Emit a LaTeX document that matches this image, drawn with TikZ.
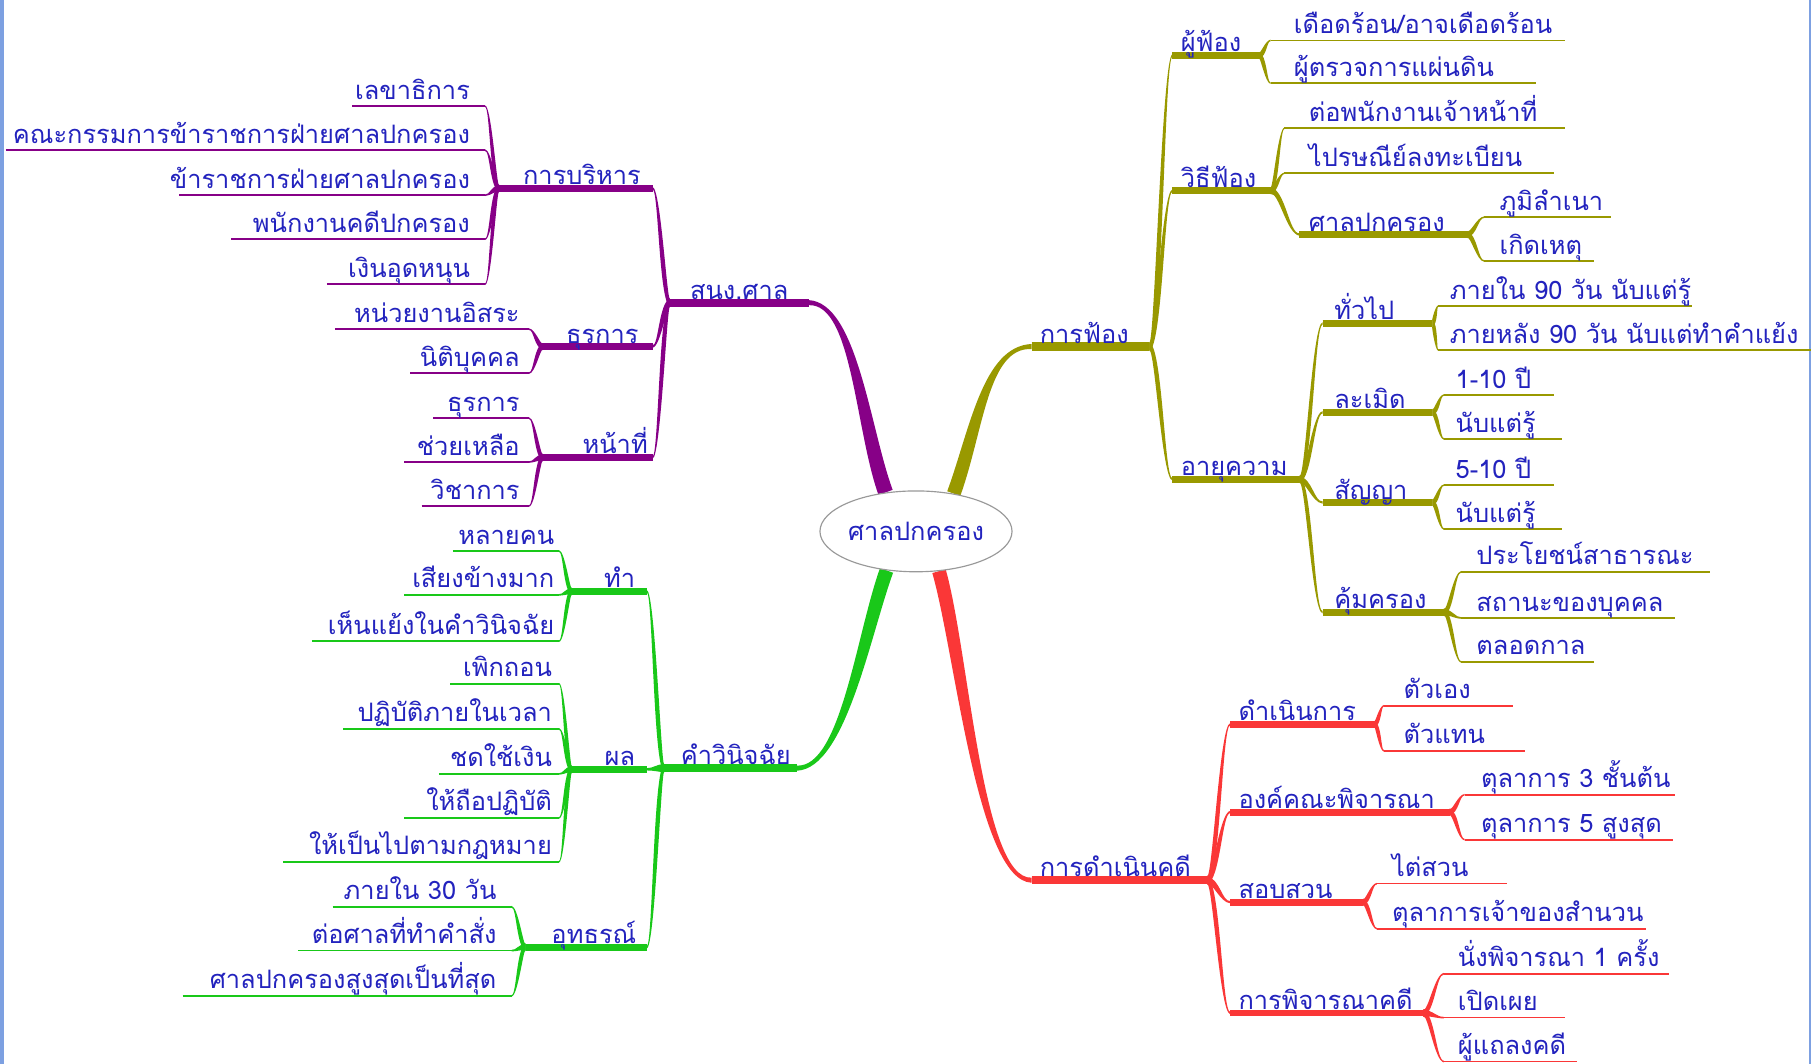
\documentclass[tikz,border=0pt]{standalone}
\usepackage{fontspec}
\newfontfamily\thai[Script=Thai]{Loma}
\usetikzlibrary{calc,shapes.geometric,backgrounds}
\definecolor{cpur}{RGB}{135,0,135}
\definecolor{cgrn}{RGB}{25,200,25}
\definecolor{colv}{RGB}{153,153,0}
\definecolor{cred}{RGB}{250,55,55}
\definecolor{ctxt}{RGB}{35,35,190}
\definecolor{cbord}{RGB}{125,160,225}
\tikzset{
  lab/.style={font=\thai\fontsize{22}{26}\selectfont, text=ctxt, inner sep=0pt},
  bar/.style={line width=6pt},
  leafline/.style={line width=1.4pt},
  rootnode/.style={ellipse, draw=black!40, fill=white, line width=1pt, minimum width=146pt, minimum height=70pt, inner sep=0pt, font=\thai\fontsize{22}{26}\selectfont, text=ctxt}
}
% tapered connector: from, to, a_x, a_y, b_x, b_y (control vectors, canvas), w0, w1, colour
\newcommand\connbase[9]{%
\begin{pgfonlayer}{background}
\fill[#9] let \p1=(#1), \p2=(#2),
 \n{ax}={#3}, \n{ay}={#4}, \n{bx}={#5}, \n{by}={#6},
 \n{la}={max(veclen(\n{ax},\n{ay}),0.001)},
 \n{lb}={max(veclen(\n{bx},\n{by}),0.001)},
 \p3=({\x1+\n{ax}},{\y1+\n{ay}}), \p4=({\x2+\n{bx}},{\y2+\n{by}}),
 \n{lm}={max(veclen(\x4-\x3,\y4-\y3),0.001)},
 \n{mx}={-(\y4-\y3)/\n{lm}}, \n{my}={(\x4-\x3)/\n{lm}}
 in ({\x1+(#7)*(-(\n{ay}))/(\n{la})},{\y1+(#7)*(\n{ax})/(\n{la})})
 .. controls ({\x3+(#7)*(\n{mx})},{\y3+(#7)*(\n{my})}) and ({\x4+(#8)*(\n{mx})},{\y4+(#8)*(\n{my})}) ..
 ({\x2+(#8)*(\n{by})/(\n{lb})},{\y2-(#8)*(\n{bx})/(\n{lb})})
 -- ({\x2-(#8)*(\n{by})/(\n{lb})},{\y2+(#8)*(\n{bx})/(\n{lb})})
 .. controls ({\x4-(#8)*(\n{mx})},{\y4-(#8)*(\n{my})}) and ({\x3-(#7)*(\n{mx})},{\y3-(#7)*(\n{my})}) ..
 ({\x1-(#7)*(-(\n{ay}))/(\n{la})},{\y1-(#7)*(\n{ax})/(\n{la})}) -- cycle;
\end{pgfonlayer}}
\newcommand\conn[5]{\connbase{#1}{#2}{0.4*(\x2-\x1)}{0}{-0.4*(\x2-\x1)}{0}{#3}{#4}{#5}}
% bar topic: name, style, xl, xr, y, anchor, text x, text
\newcommand\btopic[8]{%
 \coordinate (#1-l) at (#3,#5); \coordinate (#1-r) at (#4,#5);
 \draw[bar,#2] (#1-l) -- (#1-r);
 \node[lab, anchor=#6] (#1) at (#7,#5-3) {#8};}
% leaf topic
\newcommand\ltopic[8]{%
 \coordinate (#1-l) at (#3,#5); \coordinate (#1-r) at (#4,#5);
 \draw[leafline,#2] (#1-l) -- (#1-r);
 \node[lab, anchor=#6] (#1) at (#7,#5-6) {#8};}
\begin{document}
\begin{tikzpicture}[x=1pt,y=-1pt]
\begin{pgfonlayer}{background}
\path[use as bounding box, fill=white] (0,0) rectangle (1568,921);
\end{pgfonlayer}
\fill[cbord] (0,0) rectangle (3.5,921);
\fill[cbord] (1566,0) rectangle (1568,921);

% ---------- purple ----------
\btopic{snk}{cpur,line width=7pt}{580}{700}{262}{base}{640}{สนง.ศาล}
\btopic{bor}{cpur}{432}{565}{163}{base east}{555}{การบริหาร}
\btopic{tur}{cpur}{470}{565}{300}{base east}{553}{ธุรการ}
\btopic{nat}{cpur}{470}{565}{396}{base east}{561}{หน้าที่}
\ltopic{p1}{cpur}{305}{420}{92}{base east}{407}{เลขาธิการ}
\ltopic{p2}{cpur}{5}{420}{130}{base east}{407}{คณะกรรมการข้าราชการฝ่ายศาลปกครอง}
\ltopic{p3}{cpur}{155}{420}{169}{base east}{407}{ข้าราชการฝ่ายศาลปกครอง}
\ltopic{p4}{cpur}{200}{420}{207}{base east}{407}{พนักงานคดีปกครอง}
\ltopic{p5}{cpur}{283}{420}{246}{base east}{407}{เงินอุดหนุน}
\ltopic{p6}{cpur}{290}{458}{285}{base east}{450}{หน่วยงานอิสระ}
\ltopic{p7}{cpur}{355}{458}{323}{base east}{450}{นิติบุคคล}
\ltopic{p8}{cpur}{375}{458}{362}{base east}{450}{ธุรการ}
\ltopic{p9}{cpur}{350}{458}{400}{base east}{450}{ช่วยเหลือ}
\ltopic{p10}{cpur}{365}{458}{438}{base east}{450}{วิชาการ}
\conn{snk-l}{bor-r}{3.5}{1}{cpur}
\conn{snk-l}{tur-r}{3.5}{1}{cpur}
\conn{snk-l}{nat-r}{3.5}{1}{cpur}
\foreach \c in {p1,p2,p3,p4,p5}{\conn{bor-l}{\c-r}{3}{0.7}{cpur}}
\foreach \c in {p6,p7}{\conn{tur-l}{\c-r}{3}{0.7}{cpur}}
\foreach \c in {p8,p9,p10}{\conn{nat-l}{\c-r}{3}{0.7}{cpur}}

% ---------- green ----------
\btopic{kwn}{cgrn,line width=7pt}{575}{690}{665}{base}{637}{คำวินิจฉัย}
\btopic{tam}{cgrn}{495}{560}{512}{base east}{550}{ทำ}
\btopic{pon}{cgrn}{495}{560}{666}{base east}{550}{ผล}
\btopic{ut}{cgrn}{455}{560}{820}{base east}{551}{อุทธรณ์}
\ltopic{g1}{cgrn}{392}{484}{477}{base east}{480}{หลายคน}
\ltopic{g2}{cgrn}{350}{484}{515}{base east}{480}{เสียงข้างมาก}
\ltopic{g3}{cgrn}{270}{484}{555}{base east}{480}{เห็นแย้งในคำวินิจฉัย}
\ltopic{g4}{cgrn}{390}{484}{592}{base east}{478}{เพิกถอน}
\ltopic{g5}{cgrn}{297}{484}{631}{base east}{478}{ปฏิบัติภายในเวลา}
\ltopic{g6}{cgrn}{380}{484}{670}{base east}{478}{ชดใช้เงิน}
\ltopic{g7}{cgrn}{350}{484}{708}{base east}{478}{ให้ถือปฏิบัติ}
\ltopic{g8}{cgrn}{245}{484}{746}{base east}{478}{ให้เป็นไปตามกฎหมาย}
\ltopic{g9}{cgrn}{288}{443}{785}{base east}{430}{ภายใน 30 วัน}
\ltopic{g10}{cgrn}{258}{443}{823}{base east}{430}{ต่อศาลที่ทำคำสั่ง}
\ltopic{g11}{cgrn}{158}{443}{862}{base east}{430}{ศาลปกครองสูงสุดเป็นที่สุด}
\conn{kwn-l}{tam-r}{3.5}{1}{cgrn}
\conn{kwn-l}{pon-r}{3.5}{1}{cgrn}
\conn{kwn-l}{ut-r}{3.5}{1}{cgrn}
\foreach \c in {g1,g2,g3}{\conn{tam-l}{\c-r}{3}{0.7}{cgrn}}
\foreach \c in {g4,g5,g6,g7,g8}{\conn{pon-l}{\c-r}{3}{0.7}{cgrn}}
\foreach \c in {g9,g10,g11}{\conn{ut-l}{\c-r}{3}{0.7}{cgrn}}

% ---------- olive ----------
\btopic{fong}{colv,line width=7pt}{893}{995}{300}{base west}{900}{การฟ้อง}
\btopic{puf}{colv}{1015}{1090}{48}{base west}{1022}{ผู้ฟ้อง}
\btopic{wif}{colv}{1015}{1100}{165}{base west}{1022}{วิธีฟ้อง}
\btopic{ayu}{colv}{1015}{1125}{415}{base west}{1022}{อายุความ}
\btopic{spk}{colv}{1125}{1270}{203}{base west}{1133}{ศาลปกครอง}
\btopic{tua}{colv}{1145}{1240}{280}{base west}{1155}{ทั่วไป}
\btopic{lam}{colv}{1145}{1240}{357}{base west}{1155}{ละเมิด}
\btopic{san}{colv}{1145}{1240}{435}{base west}{1155}{สัญญา}
\btopic{kum}{colv}{1145}{1250}{530}{base west}{1155}{คุ้มครอง}
\ltopic{o1}{colv}{1100}{1355}{35}{base west}{1120}{เดือดร้อน/อาจเดือดร้อน}
\ltopic{o2}{colv}{1100}{1330}{72}{base west}{1120}{ผู้ตรวจการแผ่นดิน}
\ltopic{o3}{colv}{1112}{1355}{111}{base west}{1133}{ต่อพนักงานเจ้าหน้าที่}
\ltopic{o4}{colv}{1112}{1345}{150}{base west}{1133}{ไปรษณีย์ลงทะเบียน}
\ltopic{o5}{colv}{1285}{1395}{188}{base west}{1298}{ภูมิลำเนา}
\ltopic{o6}{colv}{1285}{1380}{226}{base west}{1298}{เกิดเหตุ}
\ltopic{o7}{colv}{1245}{1465}{265}{base west}{1255}{ภายใน 90 วัน นับแต่รู้}
\ltopic{o8}{colv}{1245}{1568}{303}{base west}{1255}{ภายหลัง 90 วัน นับแต่ทำคำแย้ง}
\ltopic{o9}{colv}{1250}{1345}{342}{base west}{1260}{1-10 ปี}
\ltopic{o10}{colv}{1250}{1352}{380}{base west}{1260}{นับแต่รู้}
\ltopic{o11}{colv}{1250}{1345}{420}{base west}{1260}{5-10 ปี}
\ltopic{o12}{colv}{1250}{1352}{458}{base west}{1260}{นับแต่รู้}
\ltopic{o13}{colv}{1265}{1480}{495}{base west}{1278}{ประโยชน์สาธารณะ}
\ltopic{o14}{colv}{1265}{1450}{535}{base west}{1278}{สถานะของบุคคล}
\ltopic{o15}{colv}{1265}{1380}{573}{base west}{1278}{ตลอดกาล}
\foreach \c in {puf,wif,ayu}{\conn{fong-r}{\c-l}{3.5}{1}{colv}}
\foreach \c in {o1,o2}{\conn{puf-r}{\c-l}{3}{0.7}{colv}}
\foreach \c in {o3,o4}{\conn{wif-r}{\c-l}{3}{0.7}{colv}}
\conn{wif-r}{spk-l}{3}{1}{colv}
\foreach \c in {o5,o6}{\conn{spk-r}{\c-l}{3}{0.7}{colv}}
\foreach \c in {tua,lam,san,kum}{\conn{ayu-r}{\c-l}{3}{1}{colv}}
\foreach \c in {o7,o8}{\conn{tua-r}{\c-l}{3}{0.7}{colv}}
\foreach \c in {o9,o10}{\conn{lam-r}{\c-l}{3}{0.7}{colv}}
\foreach \c in {o11,o12}{\conn{san-r}{\c-l}{3}{0.7}{colv}}
\foreach \c in {o13,o14,o15}{\conn{kum-r}{\c-l}{3}{0.7}{colv}}

% ---------- red ----------
\btopic{dk}{cred,line width=7pt}{893}{1045}{762}{base west}{900}{การดำเนินคดี}
\btopic{dn}{cred}{1065}{1190}{627}{base west}{1072}{ดำเนินการ}
\btopic{ok}{cred}{1065}{1255}{703}{base west}{1072}{องค์คณะพิจารณา}
\btopic{sob}{cred}{1065}{1180}{781}{base west}{1072}{สอบสวน}
\btopic{kp}{cred}{1065}{1232}{877}{base west}{1072}{การพิจารณาคดี}
\ltopic{r1}{cred}{1198}{1310}{611}{base west}{1215}{ตัวเอง}
\ltopic{r2}{cred}{1198}{1320}{650}{base west}{1215}{ตัวแทน}
\ltopic{r3}{cred}{1268}{1450}{688}{base west}{1282}{ตุลาการ 3 ชั้นต้น}
\ltopic{r4}{cred}{1268}{1448}{727}{base west}{1282}{ตุลาการ 5 สูงสุด}
\ltopic{r5}{cred}{1192}{1305}{765}{base west}{1205}{ไต่สวน}
\ltopic{r6}{cred}{1192}{1425}{804}{base west}{1205}{ตุลาการเจ้าของสำนวน}
\ltopic{r7}{cred}{1250}{1445}{843}{base west}{1262}{นั่งพิจารณา 1 ครั้ง}
\ltopic{r8}{cred}{1250}{1355}{881}{base west}{1262}{เปิดเผย}
\ltopic{r9}{cred}{1250}{1365}{919}{base west}{1262}{ผู้แถลงคดี}
\foreach \c in {dn,ok,sob,kp}{\conn{dk-r}{\c-l}{3.5}{1}{cred}}
\foreach \c in {r1,r2}{\conn{dn-r}{\c-l}{3}{0.7}{cred}}
\foreach \c in {r3,r4}{\conn{ok-r}{\c-l}{3}{0.7}{cred}}
\foreach \c in {r5,r6}{\conn{sob-r}{\c-l}{3}{0.7}{cred}}
\foreach \c in {r7,r8,r9}{\conn{kp-r}{\c-l}{3}{0.7}{cred}}

% ---------- root ----------
\node[rootnode] (root) at (793,460) {ศาลปกครอง};
\connbase{root.128}{snk-r}{-20}{55}{40}{0}{6.5}{2.2}{cpur}
\connbase{root.45}{fong-l}{20}{55}{-40}{0}{6}{2.2}{colv}
\connbase{root.233}{kwn-r}{-20}{-55}{40}{0}{6}{2.2}{cgrn}
\connbase{root.300}{dk-l}{20}{-70}{-45}{0}{6}{2.2}{cred}
\end{tikzpicture}
\end{document}
